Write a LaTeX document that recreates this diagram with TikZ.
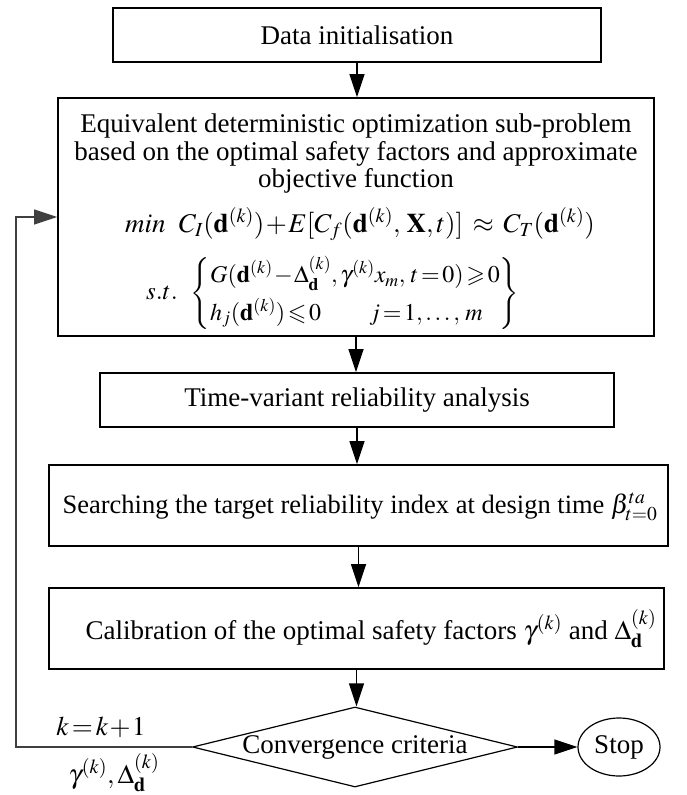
\documentclass[tikz,border=0pt]{standalone}
\usepackage{amsmath,amssymb}
\usepackage{mathptmx}
\usepackage{fontspec}
\setmainfont{Liberation Serif}
\usetikzlibrary{arrows.meta,shapes.geometric}
\newcommand{\bd}{\mathbf{d}}
\newcommand{\tightmath}{\medmuskip=1mu\thickmuskip=2mu\thinmuskip=2mu}
\begin{document}
\begin{tikzpicture}[x=1pt,y=-1pt,
  every node/.style={font=\fontsize{27}{29}\selectfont},
  txt/.style={inner sep=0pt},
  box/.style={draw, line width=1.6pt, inner sep=0pt},
  arr/.style={line width=1.3pt, -{Triangle[length=23pt,width=15pt]}},
  loopline/.style={line width=1.3pt, draw=black!75, -{Triangle[length=23pt,width=15pt]}},
]
\useasboundingbox[fill=white] (0,0) rectangle (687,795);
\node[box, minimum width=488pt, minimum height=54pt] (init) at (357,35) {Data initialisation};
\node[box, minimum width=596pt, minimum height=238pt] (opt) at (356,217) {};
\node[txt, align=center, font=\fontsize{27}{27.5}\selectfont] (optT) at (356,154) {Equivalent deterministic optimization sub-problem\\based on the optimal safety factors and approximate\\objective function};
\node[txt] (minf) at (360,224) {$\tightmath min\ \ C_I(\bd^{(k)})+E[C_f(\bd^{(k)},\,\mathbf{X},t)]\ \approx\ C_T(\bd^{(k)})$};
\node[txt, font=\fontsize{25}{27}\selectfont] (st) at (162,293) {$s.t.$};
\node[txt, font=\fontsize{24}{26}\selectfont] (cons) at (355,294) {\renewcommand{\arraystretch}{1.45}$\tightmath\left\{\begin{array}{@{}l@{}} G(\bd^{(k)}-\Delta_{\bd}^{(k)},\boldsymbol{\gamma}^{(k)}x_m,\,t=0)\geqslant 0\\ h_j(\bd^{(k)})\leqslant 0\qquad j=1,\ldots,\,m \end{array}\right\}$};
\node[box, minimum width=514pt, minimum height=54pt] (tv) at (357,400) {Time-variant reliability analysis};
\node[box, minimum width=619pt, minimum height=81pt] (srch) at (358.5,505.5) {};
\node[txt, font=\fontsize{26.5}{29}\selectfont] (srchT) at (360,507) {Searching the target reliability index at design time $\beta_{t=0}^{ta}$};
\node[box, minimum width=615pt, minimum height=81pt] (cal) at (356.5,628.5) {};
\node[txt] (calT) at (371,629) {Calibration of the optimal safety factors $\gamma^{(k)}$ and $\Delta_{\bd}^{(k)}$};
\node[diamond, draw, line width=1.2pt, minimum width=325pt, minimum height=80pt, inner sep=0pt] (conv) at (355,747) {};
\node[txt] (convT) at (conv) {Convergence criteria};
\node[ellipse, draw, line width=1.2pt, minimum width=82pt, minimum height=58pt, inner sep=0pt] (stop) at (619,747) {Stop};
\coordinate (lc) at (16,747);
\node[txt] (kl) at (101,727) {$\tightmath k=k+1$};
\node[txt] (gl) at (114,773) {$\gamma^{(k)},\Delta_{\bd}^{(k)}$};
\draw[arr] (init.south) -- (init.south |- opt.north);
\draw[arr] (opt.south) -- (opt.south |- tv.north);
\draw[arr] (tv.south) -- (tv.south |- srch.north);
\draw[arr] (srch.south) -- (srch.south |- cal.north);
\draw[arr] (cal.south) -- (cal.south |- conv.north);
\draw[arr] (conv.east) -- (stop.west);
\draw[loopline] (conv.west) -- (lc) |- (opt.west);
\end{tikzpicture}
\end{document}
